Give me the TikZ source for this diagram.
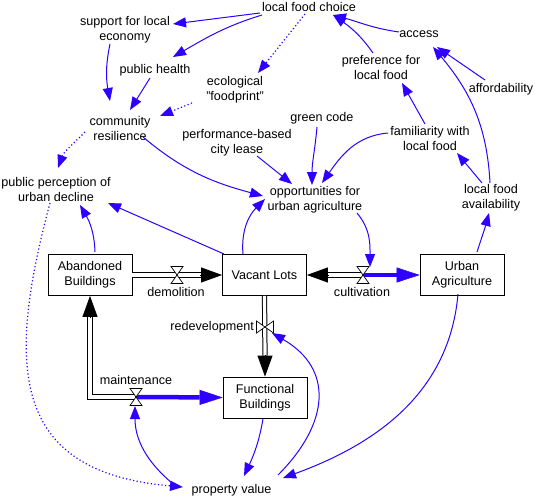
\documentclass[tikz,border=0pt]{standalone}
\usepackage{fontspec}
\setmainfont{Liberation Sans}
\usetikzlibrary{arrows.meta}
\definecolor{linkblue}{RGB}{45,0,255}
\tikzset{valve/.pic={\draw[fill=white,line width=0.7pt] (-6,8.5) -- (6,8.5) -- (0,0) -- cycle (-6,-8.5) -- (6,-8.5) -- (0,0) -- cycle;}}

\begin{document}
\begin{tikzpicture}[x=1pt,y=1pt,
	every node/.style={font=\fontsize{12.6}{15}\selectfont},
	lbl/.style={align=center,inner sep=1pt},
	stock/.style={draw,line width=0.8pt,minimum width=84pt,minimum height=41pt,align=center,inner sep=1pt},
	link/.style={linkblue,line width=1pt,-{Triangle[length=13pt,width=10pt]}},
	dotlink/.style={link,line width=1.2pt,dash pattern=on 1.2pt off 2.4pt},
	pipe/.style={double=white,double distance=3.2pt,line width=1pt},
	pipetip/.style={line width=0.8pt,-{Triangle[length=21pt,width=15pt]}},
	bflow/.style={linkblue,line width=4.5pt,-{Triangle[length=23pt,width=15pt,line width=0.5pt]}}]
			\useasboundingbox (0,0) rectangle (535,499);
			\node[lbl] (lfc) at (309,492) {local food choice};
			\node[lbl] (sle) at (125,469) {support for local\\economy};
			\node[lbl] (ph) at (155,429) {public health};
			\node[lbl] (ef) at (235,409) {ecological\\"foodprint"};
			\node[lbl] (cr) at (120,371) {community\\resilience};
			\node[lbl] (pbl) at (237,356) {performance-based\\city lease};
			\node[lbl] (gc) at (322,381) {green code};
			\node[lbl] (acc) at (419,465) {access};
			\node[lbl] (pref) at (381,431) {preference for\\local food};
			\node[lbl] (aff) at (501,410) {affordability};
			\node[lbl] (fam) at (430,361) {familiarity with\\local food};
			\node[lbl] (lfa) at (491,301) {local food\\availability};
			\node[lbl] (opp) at (315,299) {opportunities for\\urban agriculture};
			\node[lbl] (ppd) at (56,310) {public perception of\\urban decline};
			\node[stock] (ab) at (90,224) {Abandoned\\Buildings};
			\node[stock] (vl) at (264.5,224) {Vacant Lots};
			\node[stock] (ua) at (462,224) {Urban\\Agriculture};
			\node[stock] (fb) at (265,101.5) {Functional\\Buildings};
			\node[lbl] (pv) at (231.5,9) {property value};
			\coordinate (dem) at (177,224);
			\coordinate (cul) at (363,224);
			\coordinate (red) at (265,172);
			\coordinate (mai) at (136,102);
			\node[lbl] (demlbl) at (176,207) {demolition};
			\node[lbl] (cullbl) at (362,207) {cultivation};
			\node[lbl,anchor=east] (redlbl) at (255,172) {redevelopment};
			\node[lbl] (mailbl) at (136,119) {maintenance};
			\draw[pipe] (ab.east) -- ([xshift=-21pt]vl.west);
			\draw[pipetip] ([xshift=-22pt]vl.west) -- (vl.west);
			\draw[pipe] (cul) -- ([xshift=21pt]vl.east);
			\draw[pipetip] ([xshift=22pt]vl.east) -- (vl.east);
			\draw[bflow] (cul) -- (ua.west);
			\draw[pipe] (vl.south) -- ([yshift=21pt]fb.north);
			\draw[pipetip] ([yshift=22pt]fb.north) -- (fb.north);
			\draw[bflow] (mai) -- (fb.west);
			\draw[pipe] (mai) -| ([yshift=-21pt]ab.south);
			\draw[pipetip] ([yshift=-22pt]ab.south) -- (ab.south);
			\path (dem) pic {valve};
			\path (cul) pic {valve};
			\path (red) pic[rotate=90] {valve};
			\path (mai) pic {valve};
			\draw[link] ([shift={(-49,-6)}]lfc.center) -- ([shift={(48,6)}]sle.center);
			\draw[link] ([shift={(-47,-8)}]lfc.center) to[out=197,in=30] ([shift={(18,13)}]ph.center);
			\draw[dotlink] ([shift={(-4,-7)}]lfc.center) -- ([shift={(23,17)}]ef.center);
			\draw[link] ([shift={(-15,-14)}]sle.center) to[out=258,in=100] ([shift={(-10,27)}]cr.center);
			\draw[link] ([shift={(-5,-8)}]ph.center) -- ([shift={(10,18)}]cr.center);
			\draw[dotlink] ([shift={(-43,-13)}]ef.center) -- ([shift={(40,12)}]cr.center);
			\draw[link] ([shift={(23,-9)}]cr.center) to[out=-40,in=165] ([shift={(-52,4)}]opp.center);
			\draw[dotlink] ([shift={(-35,-4)}]cr.center) to[out=225,in=70] ([shift={(2,21)}]ppd.center);
			\draw[link] ([shift={(20,-13)}]pbl.center) -- ([shift={(-23,16)}]opp.center);
			\draw[link] ([shift={(-5,-9)}]gc.center) to[out=265,in=90] ([shift={(-3,15)}]opp.center);
			\draw[link] ([shift={(-42,5)}]fam.center) to[out=185,in=55] ([shift={(7,17)}]opp.center);
			\draw[link] ([shift={(-5,14)}]fam.center) -- ([shift={(21,-15)}]pref.center);
			\draw[link] ([shift={(-9,15)}]lfa.center) -- ([shift={(27,-15)}]fam.center);
			\draw[link] ([shift={(-8,15)}]pref.center) to[out=125,in=-35] ([shift={(24,-8)}]lfc.center);
			\draw[link] ([shift={(-20,2)}]acc.center) to[out=172,in=-15] ([shift={(24,-8)}]lfc.center);
			\draw[link] ([shift={(-16,9)}]aff.center) -- ([shift={(18,-13)}]acc.center);
			\draw[link] ([shift={(-1,15)}]lfa.center) to[out=93,in=-50] ([shift={(14,-13)}]acc.center);
			\draw[link] ([shift={(15,23)}]ua.center) to[out=72,in=255] ([shift={(-2,-15)}]lfa.center);
			\draw[link] ([shift={(-40.5,21)}]vl.center) -- ([shift={(52,-14)}]ppd.center);
			\draw[link] ([shift={(5,23)}]ab.center) to[out=92,in=-60] ([shift={(24,-16)}]ppd.center);
			\draw[link] ([shift={(-21.5,21)}]vl.center) to[out=95,in=225] ([shift={(-50,1)}]opp.center);
			\draw[link] ([shift={(42,-13)}]opp.center) to[out=-50,in=90] ([shift={(7,8)}]cul);
			\draw[link] ([shift={(-4,-19)}]ua.center) to[out=265,in=20] ([shift={(51.5,12)}]pv.center);
			\draw[link] ([shift={(-2,-21.5)}]fb.center) to[out=260,in=65] ([shift={(12.5,14)}]pv.center);
			\draw[link] ([shift={(46.5,15)}]pv.center) to[out=45,in=-30,looseness=1.3] ([shift={(7,-6)}]red);
			\draw[dotlink] ([shift={(-6,-14)}]ppd.center) to[out=255,in=175,looseness=1.4] ([shift={(-48.5,3)}]pv.center);
			\draw[link] ([shift={(-59.5,7)}]pv.center) to[out=140,in=-90] ([shift={(-1,-9)}]mai);
		\end{tikzpicture}
\end{document}
